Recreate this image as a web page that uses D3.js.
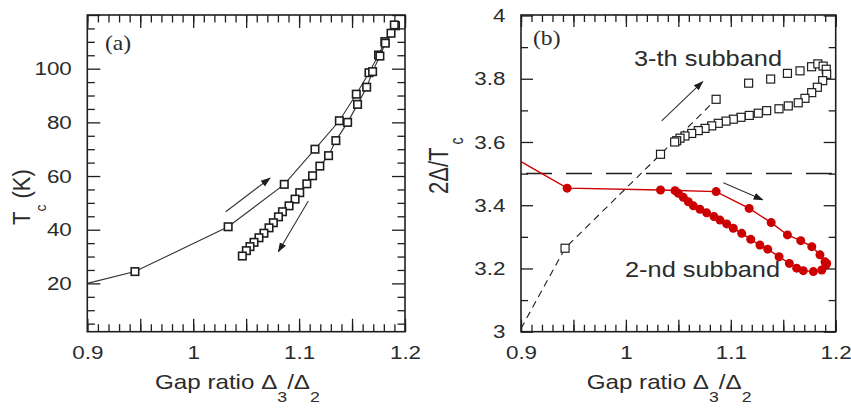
<!DOCTYPE html>
<html>
<head>
<meta charset="utf-8">
<script src="https://cdn.jsdelivr.net/npm/d3@7"></script>
<style>
  body { margin: 0; background: #fff; }
  svg { display: block; }
</style>
</head>
<body>
<script>
/* ---------- values ---------- */
// panel (a): Tc against gap ratio, rising branch then the branch coming back
var tcUpX   = [0.9, 0.945, 1.033, 1.086, 1.115, 1.138, 1.154, 1.166, 1.175, 1.181, 1.191];
var tcUpY   = [20.0, 24.4, 41.1, 56.9, 70.0, 80.6, 90.5, 98.5, 105.1, 110.1, 116.0];
var tcDownX = [1.1899, 1.1868, 1.1814, 1.1763, 1.1694, 1.1638, 1.1552, 1.1458, 1.1347, 1.1278,
               1.1196, 1.1127, 1.1073, 1.1006, 1.0962, 1.0905, 1.0843, 1.0805, 1.0757, 1.0716,
               1.0668, 1.0621, 1.0574, 1.0536, 1.0502, 1.0464];
var tcDownY = [116.3, 113.2, 109.5, 104.7, 98.9, 93.1, 86.7, 80.0, 73.2, 67.6,
               63.7, 60.1, 57.1, 53.8, 51.4, 48.9, 46.7, 44.8, 42.6, 40.7,
               38.7, 37.0, 35.3, 33.7, 32.2, 30.2];

// panel (b): 2Delta/Tc, 3-th subband (open squares)
var thirdUpX   = [0.942, 1.033, 1.086, 1.117, 1.138, 1.154, 1.166, 1.177, 1.183, 1.188, 1.191];
var thirdUpY   = [3.264, 3.561, 3.735, 3.786, 3.799, 3.817, 3.825, 3.838, 3.847, 3.840, 3.830];
var thirdDownX = [1.1914, 1.1876, 1.1825, 1.1771, 1.1707, 1.1643, 1.1548, 1.1459, 1.1342, 1.1262,
                  1.1176, 1.1097, 1.1024, 1.0954, 1.0881, 1.0818, 1.0754, 1.069, 1.0627, 1.0563,
                  1.0516, 1.0484, 1.0465];
var thirdDownY = [3.814, 3.794, 3.773, 3.756, 3.738, 3.724, 3.714, 3.705, 3.699, 3.691,
                  3.684, 3.678, 3.672, 3.666, 3.659, 3.651, 3.643, 3.636, 3.627, 3.619,
                  3.612, 3.604, 3.600];
// dashed guide through the first 3-th subband points
var thirdDashX = [0.9, 0.942, 1.033, 1.086];
var thirdDashY = [3.01, 3.264, 3.561, 3.735];

// panel (b): 2-nd subband (red dots)
var secondUpX   = [0.9, 0.944, 1.033, 1.086, 1.1175, 1.1385, 1.154, 1.1667, 1.1772, 1.185, 1.1898, 1.1907];
var secondUpY   = [3.538, 3.454, 3.448, 3.443, 3.390, 3.345, 3.306, 3.288, 3.269, 3.243, 3.221, 3.211];
var secondDownX = [1.1914, 1.1867, 1.1787, 1.1691, 1.1628, 1.1558, 1.146, 1.1352, 1.1278, 1.119,
                   1.1104, 1.1024, 1.0961, 1.0897, 1.084, 1.077, 1.0706, 1.0643, 1.0595, 1.0547,
                   1.05, 1.0468];
var secondDownY = [3.216, 3.195, 3.190, 3.193, 3.201, 3.216, 3.237, 3.261, 3.274, 3.292,
                   3.311, 3.327, 3.341, 3.353, 3.364, 3.376, 3.387, 3.398, 3.411, 3.425,
                   3.438, 3.446];

var bcsLevel = 3.5;

// arrows [x1, y1, x2, y2] in data units
var arrowsA = [[1.0307, 46.7, 1.0725, 59.2], [1.1087, 50.7, 1.0804, 31.8]];
var arrowsB = [[1.0341, 3.667, 1.0732, 3.791], [1.0929, 3.471, 1.1304, 3.417]];

// tick labels
var gapTicks = [0.9, 1, 1.1, 1.2];
var tcTicks = [20, 40, 60, 80, 100];
var ratioTicks = [3, 3.2, 3.4, 3.6, 3.8, 4];

/* ---------- setup ---------- */
var w = 851, h = 410;
var ink = "#1e1e1e";
var textInk = "#2b2b2b";
var red = "#cc0000";
var FONT = "'Liberation Sans', Arial, Helvetica, sans-serif";
var SERIF = "'Liberation Serif', 'Times New Roman', serif";
var SX = 1.18; // the original figure is stretched sideways

var svg = d3.select("body").append("svg")
    .attr("width", w)
    .attr("height", h);

var defs = svg.append("defs");
defs.append("marker")
    .attr("id", "head")
    .attr("viewBox", "0 0 10 8")
    .attr("refX", 9).attr("refY", 4)
    .attr("markerWidth", 10).attr("markerHeight", 8)
    .attr("markerUnits", "userSpaceOnUse")
    .attr("orient", "auto")
    .append("path")
    .attr("d", "M0,0.5 L10,4 L0,7.5 Z")
    .attr("fill", ink);

function zip(xs, ys) {
    return xs.map(function (x, i) { return [x, ys[i]]; });
}

/* ---------- frame, ticks and tick labels ---------- */
function drawFrame(box, x, y, yMinor, yMajor, yLabels) {
    var g = svg.append("g");
    var xMinor = x.ticks(30), xMajor = x.ticks(6);
    var sides = [
        ["bottom", "translate(0," + box.bottom + ")", x, xMinor, xMajor],
        ["top", "translate(0," + box.top + ")", x, xMinor, xMajor],
        ["left", "translate(" + box.left + ",0)", y, yMinor, yMajor],
        ["right", "translate(" + box.right + ",0)", y, yMinor, yMajor]
    ];
    sides.forEach(function (s) {
        var maker = {bottom: d3.axisBottom, top: d3.axisTop, left: d3.axisLeft, right: d3.axisRight}[s[0]];
        [[s[3], box.minorLen], [s[4], box.majorLen]].forEach(function (set) {
            var a = g.append("g").attr("transform", s[1])
                .call(maker(s[2]).tickValues(set[0]).tickSize(-set[1]).tickFormat(""));
            a.select(".domain").remove();
            a.selectAll(".tick line").attr("stroke", ink).attr("stroke-width", 1.3);
        });
    });
    g.append("rect")
        .attr("x", box.left).attr("y", box.top)
        .attr("width", box.right - box.left).attr("height", box.bottom - box.top)
        .attr("fill", "none").attr("stroke", ink).attr("stroke-width", 1.6);

    // x labels
    var xl = g.append("g").attr("transform", "translate(0," + box.bottom + ")")
        .call(d3.axisBottom(x).tickValues(gapTicks).tickSize(0).tickPadding(13.5).tickFormat(d3.format("~g")));
    xl.select(".domain").remove();
    xl.attr("font-size", 19).attr("font-family", FONT);
    xl.selectAll("text").attr("fill", textInk).attr("transform", "scale(" + SX + ",1)");

    // y labels
    var pad = 15.5;
    var yl = g.append("g").attr("transform", "translate(" + box.left + ",0)")
        .call(d3.axisLeft(y).tickValues(yLabels).tickSize(0).tickPadding(pad).tickFormat(d3.format("~g")));
    yl.select(".domain").remove();
    yl.attr("font-size", 19).attr("font-family", FONT);
    yl.selectAll("text").attr("fill", textInk)
        .attr("transform", "scale(" + SX + ",1)")
        .attr("x", -pad / SX);
}

function xTitle(x0) {
    var t = svg.append("text")
        .attr("transform", "translate(" + x0 + ",389) scale(" + SX + ",1)")
        .attr("font-family", FONT).attr("font-size", 20.5).attr("fill", textInk);
    t.append("tspan").text("Gap ratio \u0394");
    t.append("tspan").attr("font-size", 15).attr("dy", 13).text("3");
    t.append("tspan").attr("dy", -13).text("/\u0394");
    t.append("tspan").attr("font-size", 15).attr("dy", 13).text("2");
}

function drawArrows(list, x, y) {
    list.forEach(function (a) {
        svg.append("line")
            .attr("x1", x(a[0])).attr("y1", y(a[1]))
            .attr("x2", x(a[2])).attr("y2", y(a[3]))
            .attr("stroke", "#333").attr("stroke-width", 1.1)
            .attr("marker-end", "url(#head)");
    });
}

function squares(data, x, y, size, sw) {
    svg.append("g").selectAll("rect")
        .data(data)
        .enter().append("rect")
        .attr("x", function (d) { return x(d[0]) - size / 2; })
        .attr("y", function (d) { return y(d[1]) - size / 2; })
        .attr("width", size).attr("height", size)
        .attr("fill", "#fff").attr("stroke", ink).attr("stroke-width", sw);
}

/* ==================== panel (a) ==================== */
var boxA = {left: 87.3, right: 405, top: 15, bottom: 331.7, minorLen: 7.5, majorLen: 13};
var xA = d3.scaleLinear().domain([0.9, 1.2]).range([boxA.left, boxA.right]);
var yA = d3.scaleLinear().domain([2, 120]).range([boxA.bottom, boxA.top]);

drawFrame(boxA, xA, yA, yA.ticks(24).filter(function (v) { return v % 20 !== 0; }),
          yA.ticks(24).filter(function (v) { return v % 20 === 0; }), tcTicks);

var tcPath = zip(tcUpX, tcUpY).concat(zip(tcDownX, tcDownY));
var lineA = d3.line()
    .x(function (d) { return xA(d[0]); })
    .y(function (d) { return yA(d[1]); });
svg.append("path")
    .datum(tcPath)
    .attr("fill", "none").attr("stroke", "#333").attr("stroke-width", 1.1)
    .attr("d", lineA);
squares(tcPath.filter(function (d) { return d[0] > 0.9; }), xA, yA, 7.5, 1.6);
drawArrows(arrowsA, xA, yA);

svg.append("text")
    .attr("transform", "translate(105,50) scale(" + SX + ",1)")
    .attr("font-family", SERIF).attr("font-size", 20).attr("fill", textInk)
    .text("(a)");

var tA = svg.append("text")
    .attr("transform", "translate(30,225) scale(1.06,1) rotate(-90)")
    .attr("font-family", FONT).attr("font-size", 22).attr("fill", textInk);
tA.append("tspan").text("T");
tA.append("tspan").attr("font-size", 14).attr("dy", 15).text("c");
tA.append("tspan").attr("dy", -15).text(" (K)");

xTitle(155);

/* ==================== panel (b) ==================== */
var boxB = {left: 521, right: 835.7, top: 15, bottom: 331.7, minorLen: 7, majorLen: 12};
var xB = d3.scaleLinear().domain([0.9, 1.2]).range([boxB.left, boxB.right]);
var yB = d3.scaleLinear().domain([3, 4]).range([boxB.bottom, 15.5]);

var bTicks = yB.ticks(10);
drawFrame(boxB, xB, yB,
          bTicks.filter(function (v) { return Math.round(v * 10) % 2 !== 0; }),
          bTicks.filter(function (v) { return Math.round(v * 10) % 2 === 0; }), ratioTicks);

var lineB = d3.line()
    .x(function (d) { return xB(d[0]); })
    .y(function (d) { return yB(d[1]); });

// BCS level
svg.append("line")
    .attr("x1", xB(0.9)).attr("x2", xB(1.2))
    .attr("y1", yB(bcsLevel)).attr("y2", yB(bcsLevel))
    .attr("stroke", ink).attr("stroke-width", 1.5)
    .attr("stroke-dasharray", "26,14").attr("stroke-dashoffset", -5);

// 3-th subband
svg.append("path")
    .datum(zip(thirdDashX, thirdDashY))
    .attr("fill", "none").attr("stroke", ink).attr("stroke-width", 1.1)
    .attr("stroke-dasharray", "7,5")
    .attr("d", lineB);
squares(zip(thirdUpX, thirdUpY).concat(zip(thirdDownX, thirdDownY)), xB, yB, 8, 1.2);

// 2-nd subband
var secondPath = zip(secondUpX, secondUpY).concat(zip(secondDownX, secondDownY));
svg.append("path")
    .datum(secondPath)
    .attr("fill", "none").attr("stroke", red).attr("stroke-width", 1.4)
    .attr("d", lineB);
svg.append("g").selectAll("circle")
    .data(secondPath.filter(function (d) { return d[0] > 0.9; }))
    .enter().append("circle")
    .attr("cx", function (d) { return xB(d[0]); })
    .attr("cy", function (d) { return yB(d[1]); })
    .attr("r", 4.5)
    .attr("fill", red);

drawArrows(arrowsB, xB, yB);

svg.append("text")
    .attr("transform", "translate(533,45) scale(" + SX + ",1)")
    .attr("font-family", SERIF).attr("font-size", 20).attr("fill", textInk)
    .text("(b)");

svg.append("text")
    .attr("transform", "translate(634,65.5) scale(" + SX + ",1)")
    .attr("font-family", FONT).attr("font-size", 21.5).attr("fill", textInk)
    .text("3-th subband");
svg.append("text")
    .attr("transform", "translate(625,277) scale(" + SX + ",1)")
    .attr("font-family", FONT).attr("font-size", 21.5).attr("fill", textInk)
    .text("2-nd subband");

var tB = svg.append("text")
    .attr("transform", "translate(448,194) scale(1.25,1) rotate(-90)")
    .attr("font-family", FONT).attr("font-size", 22).attr("fill", textInk);
tB.append("tspan").text("2\u0394/T");
tB.append("tspan").attr("font-size", 14).attr("dx", 3).attr("dy", 12).text("c");

xTitle(586.7);
</script>
</body>
</html>
